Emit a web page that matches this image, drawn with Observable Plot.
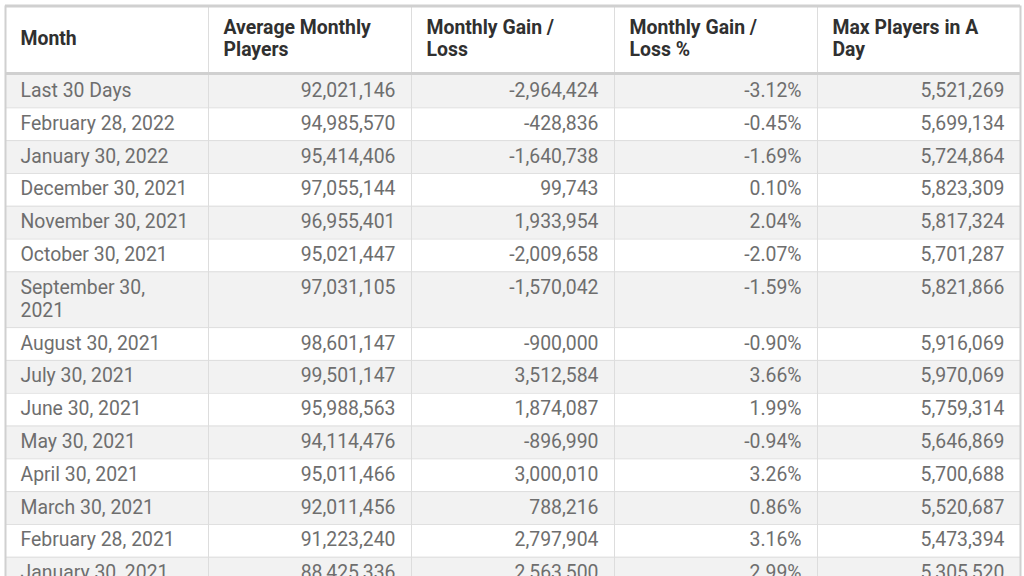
<!DOCTYPE html>
<html><head><meta charset="utf-8">
<script src="https://cdn.jsdelivr.net/npm/d3@7"></script>
<script src="https://cdn.jsdelivr.net/npm/@observablehq/plot@0.6"></script>
<style>html,body{margin:0;padding:0;background:#fff;overflow:hidden}</style>
</head><body><div id="chart"></div>
<script>
// ---- data ----
const headers = ["Month", "Average Monthly\nPlayers", "Monthly Gain /\nLoss", "Monthly Gain /\nLoss %", "Max Players in A\nDay"];
const months = ["Last 30 Days", "February 28, 2022", "January 30, 2022", "December 30, 2021", "November 30, 2021", "October 30, 2021", "September 30,\n2021", "August 30, 2021", "July 30, 2021", "June 30, 2021", "May 30, 2021", "April 30, 2021", "March 30, 2021", "February 28, 2021", "January 30, 2021"];
const avgPlayers = [92021146, 94985570, 95414406, 97055144, 96955401, 95021447, 97031105, 98601147, 99501147, 95988563, 94114476, 95011466, 92011456, 91223240, 88425336];
const gainLoss = [-2964424, -428836, -1640738, 99743, 1933954, -2009658, -1570042, -900000, 3512584, 1874087, -896990, 3000010, 788216, 2797904, 2563500];
const gainLossPct = [-3.12, -0.45, -1.69, 0.10, 2.04, -2.07, -1.59, -0.90, 3.66, 1.99, -0.94, 3.26, 0.86, 3.16, 2.99];
const maxPlayers = [5521269, 5699134, 5724864, 5823309, 5817324, 5701287, 5821866, 5916069, 5970069, 5759314, 5646869, 5700688, 5520687, 5473394, 5305520];

// ---- formatting & layout ----
const fmtInt = n => n.toLocaleString("en-US");
const fmtPct = p => p.toFixed(2) + "%";
const W = 1024, H = 576;
const tableTop = 5.5, headerBottom = 73, rowH = 32.8, extraLine = 23;
const FS = 19.4;

const rows = months.map((m, i) => ({i, month: m, lines: m.split("\n").length}));
let yy = headerBottom + 1.5;
rows.forEach(r => { r.top = yy; r.bottom = yy + rowH + extraLine * (r.lines - 1); yy = r.bottom; });

const cells = [];
rows.forEach((r, i) => {
  [r.month, fmtInt(avgPlayers[i]), fmtInt(gainLoss[i]), fmtPct(gainLossPct[i]), fmtInt(maxPlayers[i])]
    .forEach((t, c) => cells.push({col: c, top: r.top, text: t}));
});
const headerCells = headers.map((h, i) => ({col: i, text: h}));

const chart = Plot.plot({
  width: W, height: H, margin: 0,
  x: {domain: [0, 5], range: [5, 1020], axis: null},
  y: {domain: [0, H], range: [0, H], axis: null},
  style: {fontFamily: "Roboto, sans-serif", background: "#fff"},
  marks: [
    Plot.rect(rows, {x1: 0, x2: 5, y1: "top", y2: "bottom", fill: d => d.i % 2 === 0 ? "#f2f2f2" : "#ffffff"}),
    Plot.ruleY(rows, {y: "bottom", x1: 0, x2: 5, stroke: "#dddddd", strokeWidth: 1}),
    Plot.ruleX([1, 2, 3, 4], {y1: tableTop, y2: H, stroke: "#dddddd", strokeWidth: 1}),
    Plot.ruleX([0, 5], {y1: tableTop, y2: H, stroke: "#d0d0d0", strokeWidth: 2}),
    Plot.ruleY([tableTop, headerBottom], {x1: 0, x2: 5, stroke: "#d0d0d0", strokeWidth: 3}),
    Plot.text(headerCells, {x: "col", y: 37.8, text: "text", textAnchor: "start", dx: 15,
      lineAnchor: "middle", lineHeight: 1.11, fontSize: FS, fontWeight: "bold", fill: "#303030"}),
    Plot.text(cells.filter(c => c.col === 0), {x: "col", y: d => d.top + 5.6, text: "text", textAnchor: "start", dx: 15,
      lineAnchor: "top", lineHeight: 1.19, fontSize: FS, fill: "#6e6e6e"}),
    Plot.text(cells.filter(c => c.col > 0), {x: d => d.col + 1, y: d => d.top + 5.6, text: "text", textAnchor: "end", dx: -16,
      lineAnchor: "top", lineHeight: 1.19, fontSize: FS, fill: "#6e6e6e"})
  ]
});
document.getElementById("chart").appendChild(chart);
</script>
</body></html>
